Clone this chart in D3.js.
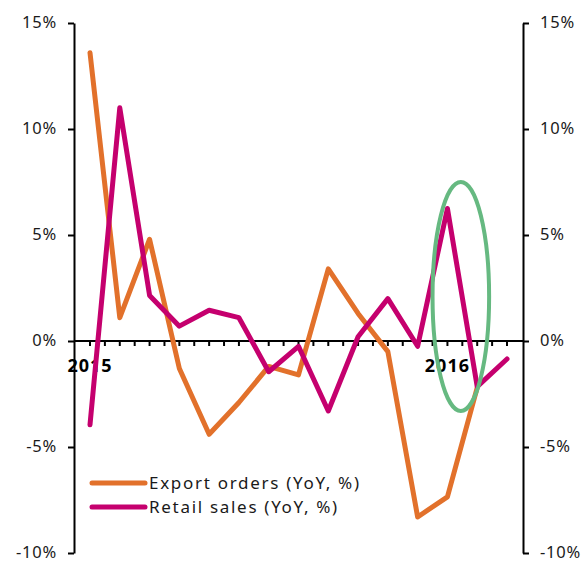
<html>
    <head>
        <script src="https://d3js.org/d3.v7.min.js"></script>
        <style>
            body { margin:0; background:white; }
            svg text { font-family: "Noto Sans", sans-serif; fill:#1a1a1a; }
            .axis path, .axis line { stroke:black; stroke-width:2px; }
            .series { fill:none; stroke-width:5px; stroke-linejoin:round; stroke-linecap:round; }
        </style>
    </head>
    <body>
        <svg id="chart" width="581" height="562"></svg>
        <script>
            // months from Jan 2015, index 0 = Jan 2015
            const exportOrders = [13.6, 1.1, 4.8, -1.3, -4.4, -2.9, -1.2, -1.6, 3.4, 1.3, -0.5, -8.3, -7.35, -2.2];
            const retailSales = [-3.95, 11.0, 2.15, 0.7, 1.45, 1.1, -1.45, -0.25, -3.3, 0.2, 2.0, -0.25, 6.25, -2.15, -0.85];
            const yTicks = [-10, -5, 0, 5, 10, 15];
            const yearLabels = [{i:0, label:"2015"}, {i:12, label:"2016"}];
            const seriesNames = ["Export orders (YoY, %)", "Retail sales (YoY, %)"];
            const colors = ["#e2712b", "#c5006e"];
            // highlight ellipse around the Jan 2016 swing: centre (month, %), half sizes
            const highlight = {i:12.45, v:2.1, di:0.95, dv:5.4};

            const svg = d3.select("#chart");
            const axisLeftX = 74, axisRightX = 523;

            const x = d3.scaleLinear().domain([0, 14]).range([90, 507]);
            const y = d3.scaleLinear().domain([-10, 15]).range([553, 23]);

            // left axis
            svg.append("g")
               .attr("class", "axis")
               .attr("transform", "translate(" + axisLeftX + ",0)")
               .call(d3.axisLeft(y).tickValues(yTicks).tickSize(6).tickSizeOuter(0).tickPadding(11).tickFormat(d => d + "%"))
               .call(g => g.selectAll("text").style("font-size", "16.5px").style("letter-spacing", "0.8px").attr("dy", "0.3em"));

            // right axis
            svg.append("g")
               .attr("class", "axis")
               .attr("transform", "translate(" + axisRightX + ",0)")
               .call(d3.axisRight(y).tickValues(yTicks).tickSize(6).tickSizeOuter(0).tickPadding(11).tickFormat(d => d + "%"))
               .call(g => g.selectAll("text").style("font-size", "16.5px").style("letter-spacing", "0.8px").attr("dy", "0.3em"));

            // x axis along zero
            const xAxis = svg.append("g").attr("class", "axis");
            xAxis.append("line")
                 .attr("x1", axisLeftX).attr("x2", axisRightX)
                 .attr("y1", y(0)).attr("y2", y(0));
            xAxis.selectAll(".xtick").data(d3.range(0, 14.01, 0.5)).enter()
                 .append("line")
                 .attr("class", "xtick")
                 .attr("x1", d => x(d)).attr("x2", d => x(d))
                 .attr("y1", y(0)).attr("y2", y(0) + 5);
            svg.selectAll(".year").data(yearLabels).enter()
               .append("text")
               .attr("class", "year")
               .attr("x", d => x(d.i))
               .attr("y", y(0) + 31)
               .attr("text-anchor", "middle")
               .style("font-size", "18px")
               .style("font-weight", "bold")
               .style("letter-spacing", "1px")
               .style("fill", "black")
               .text(d => d.label);

            const line = d3.line().x((d, i) => x(i)).y(d => y(d));

            svg.append("path")
               .datum(exportOrders)
               .attr("class", "series")
               .attr("stroke", colors[0])
               .attr("d", line);

            svg.append("path")
               .datum(retailSales)
               .attr("class", "series")
               .attr("stroke", colors[1])
               .attr("d", line);

            // green highlight
            svg.append("ellipse")
               .attr("cx", x(highlight.i))
               .attr("cy", y(highlight.v))
               .attr("rx", x(highlight.i + highlight.di) - x(highlight.i))
               .attr("ry", y(highlight.v - highlight.dv) - y(highlight.v))
               .attr("fill", "none")
               .attr("stroke", "#66b981")
               .attr("stroke-width", 4);

            // legend
            const legend = svg.append("g").attr("transform", "translate(92,483)");
            seriesNames.forEach((name, k) => {
                legend.append("line")
                      .attr("x1", 0).attr("x2", 53)
                      .attr("y1", k * 24).attr("y2", k * 24)
                      .attr("stroke", colors[k])
                      .attr("stroke-width", 5)
                      .attr("stroke-linecap", "round");
                legend.append("text")
                      .attr("x", 57)
                      .attr("y", k * 24)
                      .attr("dy", "0.35em")
                      .style("font-size", "17px")
                      .style("letter-spacing", "1.7px")
                      .text(name);
            });
        </script>
    </body>
</html>
